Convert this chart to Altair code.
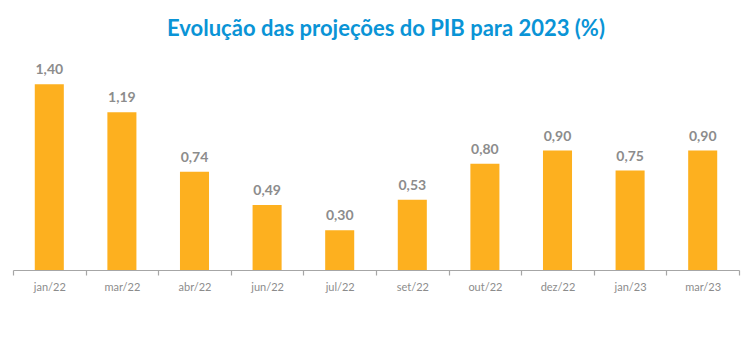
import altair as alt
import pandas as pd

meses = ["jan/22", "mar/22", "abr/22", "jun/22", "jul/22", "set/22", "out/22", "dez/22", "jan/23", "mar/23"]
valores = [1.40, 1.19, 0.74, 0.49, 0.30, 0.53, 0.80, 0.90, 0.75, 0.90]
rotulos = [f"{v:.2f}".replace(".", ",") for v in valores]

df = pd.DataFrame({"mes": meses, "valor": valores, "rotulo": rotulos})

x = alt.X("mes:N", sort=meses, title=None,
          scale=alt.Scale(paddingInner=0, paddingOuter=0),
          axis=alt.Axis(labelAngle=0, tickBand="extent", domainColor="#A6A6A6", tickColor="#A6A6A6",
                        tickSize=5, labelColor="#8C8C8C", labelFont="Lato", labelFontSize=11,
                        labelPadding=6, grid=False, domainWidth=1.2, tickWidth=1.2))
y = alt.Y("valor:Q", scale=alt.Scale(domain=[0, 1.5]), axis=None)

bars = alt.Chart(df).mark_bar(color="#FDB01F", width=alt.RelativeBandSize(0.4)).encode(x=x, y=y)
labels = alt.Chart(df).mark_text(baseline="bottom", dy=-7, font="Lato", fontSize=14,
                                 fontWeight="bold", color="#8C8C8C").encode(x=x, y=y, text="rotulo:N")

chart = alt.layer(bars, labels).properties(
    width=726, height=199,
    title=alt.TitleParams("Evolução das projeções do PIB para 2023 (%)", font="Lato", fontSize=22,
                          fontWeight="bold", color="#0A94D6", anchor="middle", offset=22, dx=10),
    autosize=alt.AutoSizeParams(type="none"),
    padding={"left": 5, "top": 63, "right": 6, "bottom": 60},
).configure_view(stroke=None)

chart.save("out.html", embed_options={"renderer": "svg", "actions": False})
